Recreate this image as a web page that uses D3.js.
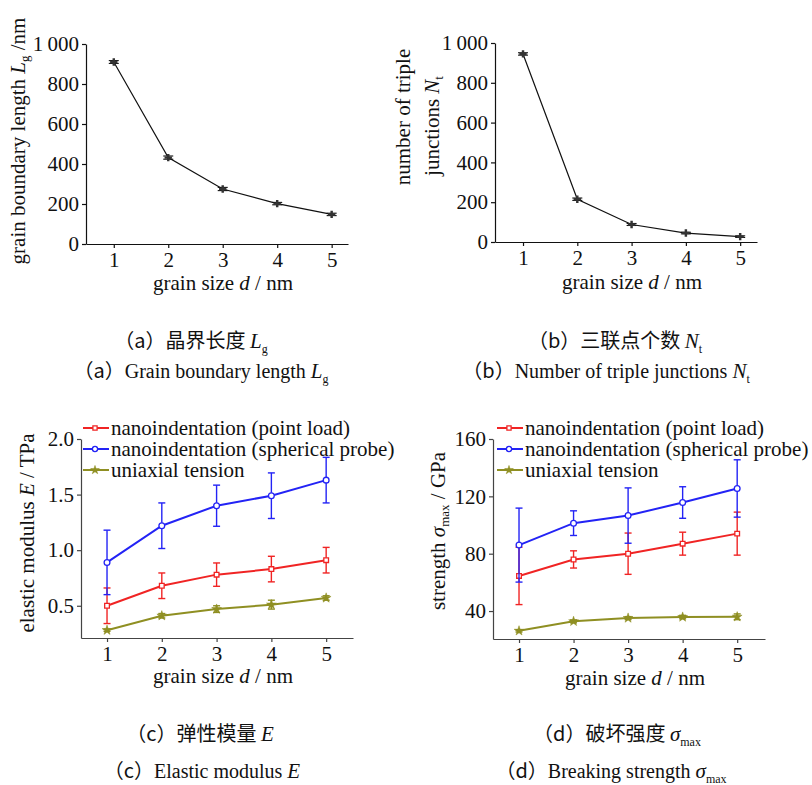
<!DOCTYPE html>
<html>
<head>
<meta charset="utf-8">
<script src="https://cdn.jsdelivr.net/npm/d3@7"></script>
<style>
  body { margin: 0; background: #fff; }
  text { font-family: "Liberation Serif", "DejaVu Serif", serif; fill: #111; }
  .cn { font-family: "Noto Sans CJK SC", "Liberation Serif", serif; }
</style>
</head>
<body>
<svg id="fig" width="812" height="785"></svg>
<script>
var grainSize = [1, 2, 3, 4, 5]
var boundaryLength = [910, 432, 275, 202, 148]
var boundaryErr = [7, 8, 8, 6, 6]
var tripleJunctions = [945, 215, 88, 45, 27]
var junctionErr = [6, 6, 5, 4, 4]

var modPoint = [0.50, 0.68, 0.78, 0.83, 0.91]
var modPointErr = [0.16, 0.115, 0.105, 0.115, 0.115]
var modSphere = [0.89, 1.22, 1.40, 1.49, 1.63]
var modSphereErr = [0.29, 0.205, 0.185, 0.205, 0.205]
var modTension = [0.28, 0.41, 0.47, 0.51, 0.57]
var modTensionErr = [0.01, 0.02, 0.03, 0.04, 0.02]

var strPoint = [64.5, 76, 80, 87, 94]
var strPointErr = [20, 6, 14.4, 8, 15]
var strSphere = [86, 101.3, 106.6, 115.7, 125.5]
var strSphereErr = [25.8, 8.6, 19.3, 11, 20]
var strTension = [26.2, 32.8, 35.1, 35.8, 36]
var strTensionErr = [0.8, 1, 1, 1.2, 2]

var legendLabels = ["nanoindentation (point load)", "nanoindentation (spherical probe)", "uniaxial tension"]
var seriesColors = ["#f02424", "#2323f5", "#8f8f22"]
var countTicks = [0, 200, 400, 600, 800, 1000]
var modTicks = [0.5, 1.0, 1.5, 2.0]
var strTicks = [40, 80, 120, 160]

var svg = d3.select("#fig")
svg.append("rect").attr("width", 812).attr("height", 785).attr("fill", "#fff")

function fmtCount(d) {
  return d === 1000 ? "1\u2009000" : d
}

// one panel: axes, titles, series with error bars
function drawPanel(p) {
  var x = d3.scaleLinear().domain(p.xDomain).range([p.left, p.right])
  var y = d3.scaleLinear().domain(p.yDomain).range([p.bottom, p.top])
  var g = svg.append("g")

  var xa = g.append("g").attr("transform", "translate(0," + p.bottom + ")")
            .call(d3.axisBottom(x).tickValues(grainSize).tickFormat(d3.format("d")).tickSize(4).tickPadding(4).tickSizeOuter(0))
  var ya = g.append("g").attr("transform", "translate(" + p.left + ",0)")
            .call(d3.axisLeft(y).tickValues(p.yTicks).tickFormat(p.yFormat).tickSize(4).tickPadding(3).tickSizeOuter(0))
  ;[xa, ya].forEach(function(a) {
    a.selectAll("path, line").attr("stroke", p.axisColor).attr("stroke-width", 1.2)
    a.selectAll("text").attr("font-size", 21).attr("font-family", "Liberation Serif").attr("fill", "#111")
  })

  g.append("text").attr("x", (p.left + p.right) / 2 + 6).attr("y", p.xTitleY)
   .attr("text-anchor", "middle").attr("font-size", 21)
   .call(function(t) {
     t.append("tspan").text("grain size ")
     t.append("tspan").attr("font-style", "italic").text("d")
     t.append("tspan").text(" / nm")
   })

  p.yTitle(g)

  p.series.forEach(function(s) {
    var pts = grainSize.map(function(d, i) { return { x: d, v: s.values[i], e: s.err[i] } })
    g.append("path").datum(pts)
     .attr("fill", "none").attr("stroke", s.color).attr("stroke-width", s.width)
     .attr("d", d3.line().x(function(d) { return x(d.x) }).y(function(d) { return y(d.v) }))
    var eb = g.selectAll(null).data(pts).enter().append("g").attr("stroke", s.color).attr("stroke-width", s.errWidth)
    eb.append("line").attr("x1", function(d) { return x(d.x) }).attr("x2", function(d) { return x(d.x) })
      .attr("y1", function(d) { return y(d.v - d.e) }).attr("y2", function(d) { return y(d.v + d.e) })
    eb.append("line").attr("x1", function(d) { return x(d.x) - s.cap }).attr("x2", function(d) { return x(d.x) + s.cap })
      .attr("y1", function(d) { return y(d.v + d.e) }).attr("y2", function(d) { return y(d.v + d.e) })
    eb.append("line").attr("x1", function(d) { return x(d.x) - s.cap }).attr("x2", function(d) { return x(d.x) + s.cap })
      .attr("y1", function(d) { return y(d.v - d.e) }).attr("y2", function(d) { return y(d.v - d.e) })
    g.selectAll(null).data(pts).enter().append("path")
     .attr("transform", function(d) { return "translate(" + x(d.x) + "," + y(d.v) + ")" })
     .attr("d", d3.symbol().type(s.symbol).size(s.size))
     .attr("fill", s.fill).attr("stroke", s.color).attr("stroke-width", s.symWidth)
  })

  if (p.legend) {
    p.series.forEach(function(s, i) {
      var ly = p.legend.y + i * 21
      g.append("line").attr("x1", p.legend.x).attr("x2", p.legend.x + 26)
       .attr("y1", ly).attr("y2", ly).attr("stroke", s.color).attr("stroke-width", 2)
      g.append("path").attr("transform", "translate(" + (p.legend.x + 12) + "," + ly + ")")
       .attr("d", d3.symbol().type(s.symbol).size(s.size * 0.8))
       .attr("fill", s.fill).attr("stroke", s.color).attr("stroke-width", s.symWidth)
      g.append("text").attr("x", p.legend.x + 28).attr("y", ly + 7).attr("font-size", 21).text(legendLabels[i])
    })
  }
}

function blackSeries(values, err) {
  return [{ values: values, err: err, color: "#111", width: 1.2, errWidth: 1.1, cap: 5,
            symbol: d3.symbolCross, size: 30, fill: "#333", symWidth: 0 }]
}

function colorSeries(a, ae, b, be, c, ce) {
  return [
    { values: a, err: ae, color: seriesColors[0], width: 2, errWidth: 1.4, cap: 3.5, symbol: d3.symbolSquare, size: 22, fill: "#fff", symWidth: 1.3 },
    { values: b, err: be, color: seriesColors[1], width: 2, errWidth: 1.4, cap: 3.5, symbol: d3.symbolCircle, size: 26, fill: "#fff", symWidth: 1.3 },
    { values: c, err: ce, color: seriesColors[2], width: 2, errWidth: 1.4, cap: 3.5, symbol: d3.symbolStar, size: 30, fill: seriesColors[2], symWidth: 0.5 }
  ]
}

// (a) grain boundary length
drawPanel({
  left: 86, right: 348, top: 44, bottom: 244,
  xDomain: [0.49, 5.3], yDomain: [0, 1000], yTicks: countTicks, yFormat: fmtCount,
  axisColor: "#111", xTitleY: 290,
  series: blackSeries(boundaryLength, boundaryErr),
  yTitle: function(g) {
    g.append("text").attr("transform", "translate(25,141) rotate(-90)").attr("text-anchor", "middle").attr("font-size", 21)
     .call(function(t) {
       t.append("tspan").text("grain boundary length ")
       t.append("tspan").attr("font-style", "italic").text("L")
       t.append("tspan").attr("font-size", 13).attr("dy", 4).text("g")
       t.append("tspan").attr("dy", -4).text(" /nm")
     })
  }
})

// (b) number of triple junctions
drawPanel({
  left: 495, right: 757, top: 43, bottom: 242,
  xDomain: [0.484, 5.31], yDomain: [0, 1000], yTicks: countTicks, yFormat: fmtCount,
  axisColor: "#111", xTitleY: 289,
  series: blackSeries(tripleJunctions, junctionErr),
  yTitle: function(g) {
    g.append("text").attr("transform", "translate(410,117) rotate(-90)").attr("text-anchor", "middle").attr("font-size", 21)
     .text("number of triple")
    g.append("text").attr("transform", "translate(439,126) rotate(-90)").attr("text-anchor", "middle").attr("font-size", 21)
     .call(function(t) {
       t.append("tspan").text("junctions ")
       t.append("tspan").attr("font-style", "italic").text("N")
       t.append("tspan").attr("font-size", 13).attr("dy", 4).text("t")
     })
  }
})

// (c) elastic modulus
drawPanel({
  left: 81, right: 353, top: 439, bottom: 638,
  xDomain: [0.525, 5.49], yDomain: [0.21, 2.0], yTicks: modTicks, yFormat: d3.format(".1f"),
  axisColor: "#444", xTitleY: 683,
  series: colorSeries(modPoint, modPointErr, modSphere, modSphereErr, modTension, modTensionErr),
  legend: { x: 83, y: 428 },
  yTitle: function(g) {
    g.append("text").attr("transform", "translate(34,533) rotate(-90)").attr("text-anchor", "middle").attr("font-size", 21)
     .call(function(t) {
       t.append("tspan").text("elastic modulus ")
       t.append("tspan").attr("font-style", "italic").text("E")
       t.append("tspan").text(" / TPa")
     })
  }
})

// (d) breaking strength
drawPanel({
  left: 493, right: 765, top: 439, bottom: 639,
  xDomain: [0.523, 5.51], yDomain: [20.5, 160], yTicks: strTicks, yFormat: d3.format("d"),
  axisColor: "#444", xTitleY: 685,
  series: colorSeries(strPoint, strPointErr, strSphere, strSphereErr, strTension, strTensionErr),
  legend: { x: 497, y: 428 },
  yTitle: function(g) {
    g.append("text").attr("transform", "translate(445,531) rotate(-90)").attr("text-anchor", "middle").attr("font-size", 21)
     .call(function(t) {
       t.append("tspan").text("strength ")
       t.append("tspan").attr("font-style", "italic").text("\u03c3")
       t.append("tspan").attr("font-size", 13).attr("dy", 4).text("max")
       t.append("tspan").attr("dy", -4).text("  / GPa")
     })
  }
})

// captions under each panel
var captions = [
  { cx: 191, y: 348, cn: "\uff08a\uff09\u6676\u754c\u957f\u5ea6 ", sym: "L", sub: "g" },
  { cx: 615, y: 348, cn: "\uff08b\uff09\u4e09\u8054\u70b9\u4e2a\u6570 ", sym: "N", sub: "t" },
  { cx: 200, y: 741, cn: "\uff08c\uff09\u5f39\u6027\u6a21\u91cf ", sym: "E", sub: "" },
  { cx: 617, y: 741, cn: "\uff08d\uff09\u7834\u574f\u5f3a\u5ea6 ", sym: "\u03c3", sub: "max" }
]
var captionsEn = [
  { cx: 201, y: 378, en: "\uff08a\uff09Grain boundary length ", sym: "L", sub: "g" },
  { cx: 606, y: 378, en: "\uff08b\uff09Number of triple junctions ", sym: "N", sub: "t" },
  { cx: 202, y: 778, en: "\uff08c\uff09Elastic modulus ", sym: "E", sub: "" },
  { cx: 611, y: 778, en: "\uff08d\uff09Breaking strength ", sym: "\u03c3", sub: "max" }
]

captions.forEach(function(c) {
  var t = svg.append("text").attr("x", c.cx).attr("y", c.y).attr("text-anchor", "middle").attr("font-size", 20)
  t.append("tspan").attr("class", "cn").text(c.cn)
  t.append("tspan").attr("font-style", "italic").attr("font-size", 21).text(c.sym)
  if (c.sub) t.append("tspan").attr("font-size", 12).attr("dy", 5).text(c.sub)
})
captionsEn.forEach(function(c) {
  var t = svg.append("text").attr("x", c.cx).attr("y", c.y).attr("text-anchor", "middle").attr("font-size", 20)
  t.append("tspan").attr("class", "cn").text(c.en.slice(0, 3))
  t.append("tspan").text(c.en.slice(3))
  t.append("tspan").attr("font-style", "italic").attr("font-size", 21).text(c.sym)
  if (c.sub) t.append("tspan").attr("font-size", 12).attr("dy", 5).text(c.sub)
})
</script>
</body>
</html>
